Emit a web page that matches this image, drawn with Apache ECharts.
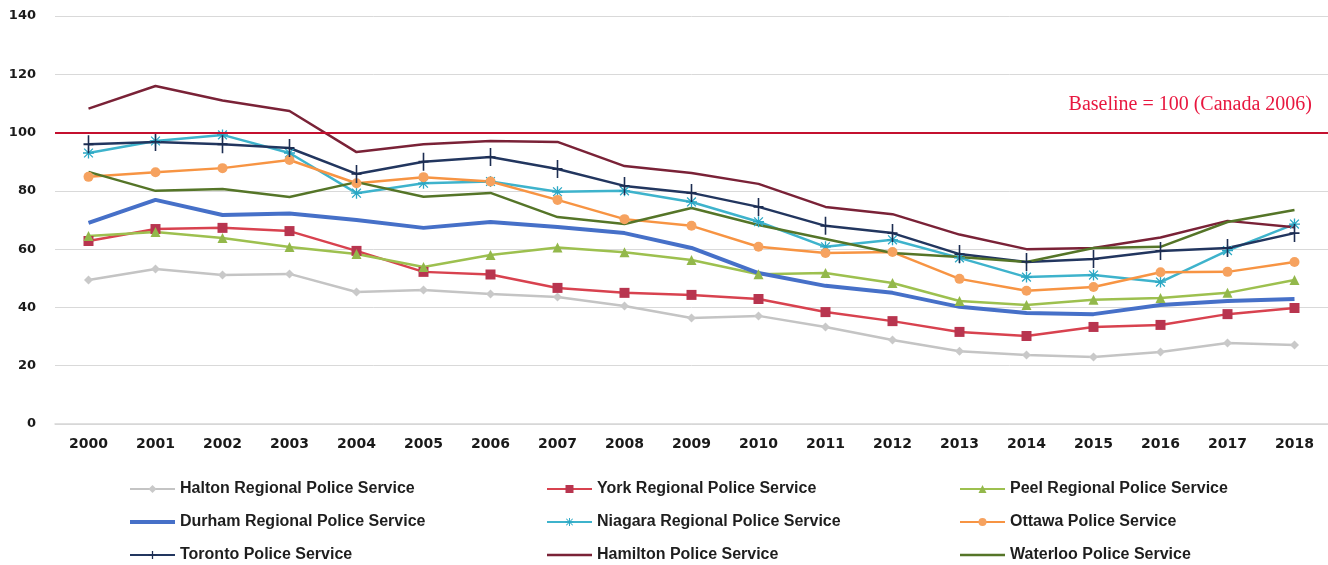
<!DOCTYPE html>
<html>
<head>
<meta charset="utf-8">
<script src="https://cdn.jsdelivr.net/npm/echarts@6/dist/echarts.min.js"></script>
<style>
  html, body { margin: 0; padding: 0; background: #ffffff; }
  #chart { width: 1328px; height: 565px; }
</style>
</head>
<body>
<div id="chart"></div>
<script>
// Crime severity index by police service, 2000-2018 (Canada 2006 = 100)
const years = ['2000','2001','2002','2003','2004','2005','2006','2007','2008','2009',
               '2010','2011','2012','2013','2014','2015','2016','2017','2018'];

const halton   = [49.4, 53.2, 51.1, 51.5, 45.3, 46.0, 44.6, 43.6, 40.5, 36.4, 37.1, 33.3, 28.8, 25.0, 23.7, 23.0, 24.7, 27.8, 27.1];
const york     = [62.8, 66.9, 67.3, 66.2, 59.4, 52.2, 51.3, 46.7, 45.0, 44.3, 42.9, 38.4, 35.3, 31.6, 30.2, 33.3, 34.0, 37.7, 39.8];
const peel     = [64.5, 65.9, 63.8, 60.7, 58.3, 53.9, 58.0, 60.6, 58.9, 56.3, 51.4, 51.8, 48.4, 42.2, 40.8, 42.6, 43.2, 45.0, 49.4];
const durham   = [69.0, 76.9, 71.7, 72.2, 70.0, 67.3, 69.3, 67.6, 65.5, 60.4, 51.8, 47.4, 45.0, 40.2, 38.1, 37.7, 40.8, 42.2, 42.9];
const niagara  = [93.0, 97.1, 99.2, 93.0, 79.2, 82.6, 83.2, 79.7, 80.0, 76.2, 69.4, 60.8, 63.2, 57.0, 50.4, 51.1, 48.7, 59.5, 68.6];
const ottawa   = [84.8, 86.4, 87.8, 90.6, 82.6, 84.7, 83.2, 76.9, 70.3, 68.0, 60.8, 58.7, 59.0, 49.8, 45.7, 47.0, 52.1, 52.2, 55.6];
const toronto  = [96.0, 96.8, 96.0, 94.7, 85.8, 90.0, 91.6, 87.5, 81.7, 79.3, 74.5, 68.0, 65.5, 58.3, 55.6, 56.6, 59.4, 60.4, 65.5];
const hamilton = [108.2, 116.0, 111.0, 107.4, 93.3, 96.0, 97.1, 96.8, 88.5, 86.1, 82.4, 74.5, 72.0, 65.0, 60.0, 60.4, 64.0, 69.7, 67.5];
const waterloo = [86.5, 80.0, 80.6, 77.9, 83.0, 78.0, 79.3, 71.0, 68.6, 74.1, 68.3, 63.5, 58.7, 57.3, 55.6, 60.4, 60.8, 69.3, 73.4];

const baselineValue = 100;
const baselineText = 'Baseline = 100 (Canada 2006)';
const yTicks = { min: 0, max: 140, interval: 20 };

const names = {
  halton: 'Halton Regional Police Service',
  york: 'York Regional Police Service',
  peel: 'Peel Regional Police Service',
  durham: 'Durham Regional Police Service',
  niagara: 'Niagara Regional Police Service',
  ottawa: 'Ottawa Police Service',
  toronto: 'Toronto Police Service',
  hamilton: 'Hamilton Police Service',
  waterloo: 'Waterloo Police Service'
};

// marker shapes
const plusPath = 'path://M4.2,0H5.8V7.2H10V8.8H5.8V16H4.2V8.8H0V7.2H4.2Z';
const starPath = 'path://M4.4,0H5.6V10H4.4Z M0.6,1.4L1.4,0.6L9.4,8.6L8.6,9.4Z M8.6,0.6L9.4,1.4L1.4,9.4L0.6,8.6Z M0,4.4H10V5.6H0Z';
// plain line swatch for series drawn without markers (thin bar centred in the icon box)
const barIcon = w => 'path://M0,0H0.01V0.01H0Z M0,' + (5 - w / 2) + 'H45V' + (5 + w / 2) + 'H0Z M0,9.99H0.01V10H0Z';

function lineSeries(name, data, color, opts) {
  opts = opts || {};
  return {
    name: name,
    type: 'line',
    data: data,
    z: opts.z || 3,
    symbol: opts.symbol || 'none',
    symbolSize: opts.symbolSize || 8,
    showSymbol: !!opts.symbol,
    lineStyle: { color: color, width: opts.width || 2.5 },
    itemStyle: { color: opts.markerColor || color, borderColor: opts.markerColor || color, borderWidth: 0 },
    emphasis: { disabled: true }
  };
}

const series = [
  lineSeries(names.halton, halton, '#c4c4c4', { symbol: 'diamond', symbolSize: 9, markerColor: '#c9c9c9' }),
  lineSeries(names.york, york, '#d8424f', { symbol: 'rect', symbolSize: 10, markerColor: '#b8354f' }),
  lineSeries(names.peel, peel, '#9dc04f', { symbol: 'triangle', symbolSize: 10, markerColor: '#93b84b' }),
  lineSeries(names.durham, durham, '#4670c8', { width: 4 }),
  lineSeries(names.niagara, niagara, '#3eb3cc', { symbol: starPath, symbolSize: [11, 11], markerColor: '#2aa7c4' }),
  lineSeries(names.ottawa, ottawa, '#f79443', { symbol: 'circle', symbolSize: 10, markerColor: '#f6a25f' }),
  lineSeries(names.toronto, toronto, '#22365f', { symbol: plusPath, symbolSize: [10, 18], markerColor: '#1c2d52' }),
  lineSeries(names.hamilton, hamilton, '#7a2237', { }),
  lineSeries(names.waterloo, waterloo, '#557528', { })
];

// Canada 2006 reference line
series[0].markLine = {
  silent: true,
  symbol: 'none',
  lineStyle: { color: '#c4102f', width: 2, type: 'solid' },
  label: {
    show: true,
    position: 'insideEndTop',
    formatter: baselineText,
    color: '#e8173f',
    fontFamily: '"Liberation Serif", "Times New Roman", serif',
    fontSize: 20,
    padding: [0, 11, 13, 0]
  },
  data: [{ yAxis: baselineValue }]
};

const legendText = {
  fontFamily: '"Liberation Sans Narrow", "Liberation Sans", Arial, sans-serif',
  fontWeight: 'bold',
  fontSize: 16,
  color: '#1e1e1e'
};

function legendItem(name, plainWidth) {
  return plainWidth ? { name: name, icon: barIcon(plainWidth) } : { name: name };
}

function legendColumn(left, items) {
  return {
    orient: 'vertical',
    left: left,
    top: 476,
    height: 90,
    itemWidth: 45,
    itemHeight: 10,
    itemGap: 17,
    textStyle: legendText,
    selectedMode: false,
    data: items
  };
}

const option = {
  animation: false,
  backgroundColor: '#ffffff',
  grid: { left: 55, right: 0, top: 16, bottom: 141 },
  legend: [
    legendColumn(124, [legendItem(names.halton), legendItem(names.durham, 4), legendItem(names.toronto)]),
    legendColumn(541, [legendItem(names.york), legendItem(names.niagara), legendItem(names.hamilton, 2.5)]),
    legendColumn(954, [legendItem(names.peel), legendItem(names.ottawa), legendItem(names.waterloo, 2.5)])
  ],
  xAxis: {
    type: 'category',
    data: years,
    boundaryGap: true,
    axisLine: { show: true, lineStyle: { color: '#d6d6d6', width: 1.5 } },
    axisTick: { show: false },
    axisLabel: {
      margin: 13,
      color: '#1a1a1a',
      fontFamily: '"DejaVu Sans", sans-serif',
      fontWeight: 'bold',
      fontSize: 14
    }
  },
  yAxis: {
    type: 'value',
    min: yTicks.min,
    max: yTicks.max,
    interval: yTicks.interval,
    axisLine: { show: false },
    axisTick: { show: false },
    splitLine: { lineStyle: { color: '#d9d9d9', width: 1 } },
    axisLabel: {
      margin: 19,
      color: '#1a1a1a',
      fontFamily: '"DejaVu Sans", sans-serif',
      fontWeight: 'bold',
      fontSize: 13
    }
  },
  series: series
};

const chart = echarts.init(document.getElementById('chart'), null, { renderer: 'canvas' });
chart.setOption(option);
</script>
</body>
</html>
